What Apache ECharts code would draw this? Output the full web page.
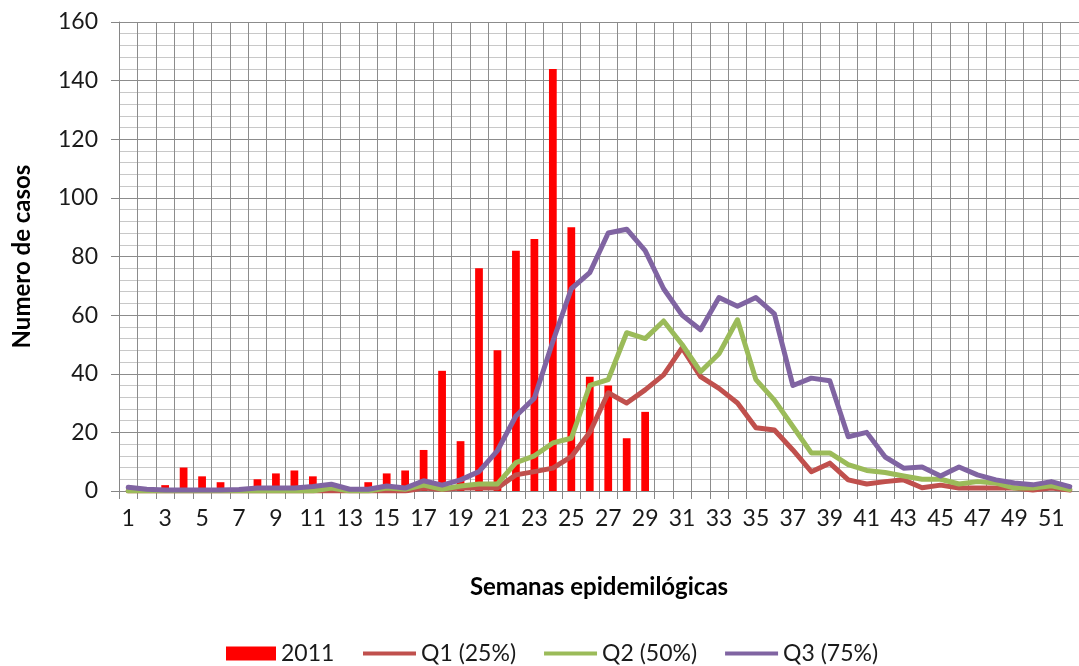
<!DOCTYPE html>
<html>
<head>
<meta charset="utf-8">
<script src="https://cdn.jsdelivr.net/npm/echarts@6/dist/echarts.min.js"></script>
<style>
html,body{margin:0;padding:0;background:#fff;}
#chart{width:1079px;height:666px;}
</style>
</head>
<body>
<div id="chart"></div>
<script>
var weeks = [];
for (var i = 1; i <= 52; i++) weeks.push(String(i));

// casos 2011 (barras)
var casos2011 = [0,0,2,8,5,3,0,4,6,7,5,0,0,3,6,7,14,41,17,76,48,82,86,144,90,39,36,18,27,
  null,null,null,null,null,null,null,null,null,null,null,null,null,null,null,null,null,null,null,null,null,null,null];

// canal endemico
var q1 = [0,0,0,0,0,0,0,0,0,0,0,0,0,0,0,0,1,0.5,1,1,1,5.5,6.6,7.8,11.7,20,33.5,30,34.5,39.6,48.8,39,35,30,21.6,20.8,
  14,6.6,9.5,3.8,2.4,3.2,3.8,1.1,2,1,1,1,1,0.3,1,0.3];
var q2 = [0,0,0,0,0,0,0,0,0,0,0,1,0,0,1,0.6,2,0.6,1.7,2.4,2.4,9.7,12,16.4,18,36,38,54,52,58,50,40.7,46.8,58.4,38,31,
  22,13,13,9,7,6.3,5.1,4,4,2.4,3.2,2.7,1,1,1.8,0.5];
var q3 = [1.3,0.6,0.3,0.3,0.3,0.3,0.5,1,1,1,1.5,2.3,0.6,0.6,1.7,1,3.5,2,3.8,6.6,13.8,25.6,31.7,51,69,74.5,88,89.3,82,69,60,55,66,63,66,60.4,
  36,38.5,37.6,18.5,20,11.6,7.8,8.2,5.1,8.2,5.5,3.8,2.7,2.1,3.2,1.5];

var font = 'Lato, "Open Sans", sans-serif';

var chart = echarts.init(document.getElementById('chart'));

function lineSerie(name, data, color) {
  return {
    name: name,
    type: 'line',
    data: data,
    symbol: 'none',
    lineStyle: {color: color, width: 5, join: 'round', cap: 'round'},
    itemStyle: {color: color},
    z: 3
  };
}

var legendText = {fontFamily: font, fontSize: 23, color: '#1a1a1a'};

var option = {
  backgroundColor: '#fff',
  animation: false,
  textStyle: {fontFamily: font},
  grid: {left: 119, top: 22, width: 972, height: 469},
  legend: [{
    left: 221,
    top: 637,
    itemWidth: 50,
    itemHeight: 14,
    textStyle: legendText,
    data: [{name: '2011', icon: 'rect'}]
  }, {
    left: 358,
    top: 637,
    itemWidth: 53,
    itemHeight: 4,
    itemGap: 28,
    icon: 'rect',
    textStyle: legendText,
    data: ['Q1 (25%)', 'Q2 (50%)', 'Q3 (75%)']
  }],
  xAxis: {
    type: 'category',
    data: weeks,
    boundaryGap: true,
    name: 'Semanas epidemilógicas',
    nameLocation: 'middle',
    nameGap: 84,
    nameTextStyle: {fontFamily: font, fontSize: 24, fontWeight: 'bold', color: '#000'},
    axisLine: {lineStyle: {color: '#868686', width: 1}},
    axisTick: {show: true, interval: 0, length: 8, lineStyle: {color: '#868686'}},
    axisLabel: {interval: 1, fontSize: 23, color: '#1a1a1a', margin: 16, fontFamily: font},
    splitLine: {show: true, interval: 0, lineStyle: {color: '#8c8c8c', width: 1}}
  },
  yAxis: {
    type: 'value',
    min: 0,
    max: 160,
    interval: 20,
    name: 'Numero de casos',
    nameLocation: 'middle',
    nameGap: 85,
    nameRotate: 90,
    nameTextStyle: {fontFamily: font, fontSize: 24, fontWeight: 'bold', color: '#000'},
    axisLine: {show: true, lineStyle: {color: '#868686', width: 1}},
    axisTick: {show: true, length: 8, lineStyle: {color: '#868686'}},
    axisLabel: {fontSize: 23, color: '#1a1a1a', margin: 21, fontFamily: font},
    splitLine: {show: true, lineStyle: {color: '#8c8c8c', width: 1}},
    minorTick: {show: false, splitNumber: 5},
    minorSplitLine: {show: true, lineStyle: {color: '#c8c8c8', width: 1}}
  },
  series: [
    {
      name: '2011',
      type: 'bar',
      data: casos2011,
      barWidth: '42%',
      itemStyle: {color: '#ff0000'},
      z: 2
    },
    lineSerie('Q1 (25%)', q1, '#c0504d'),
    lineSerie('Q2 (50%)', q2, '#9bbb59'),
    lineSerie('Q3 (75%)', q3, '#8064a2')
  ]
};

chart.setOption(option);
</script>
</body>
</html>
